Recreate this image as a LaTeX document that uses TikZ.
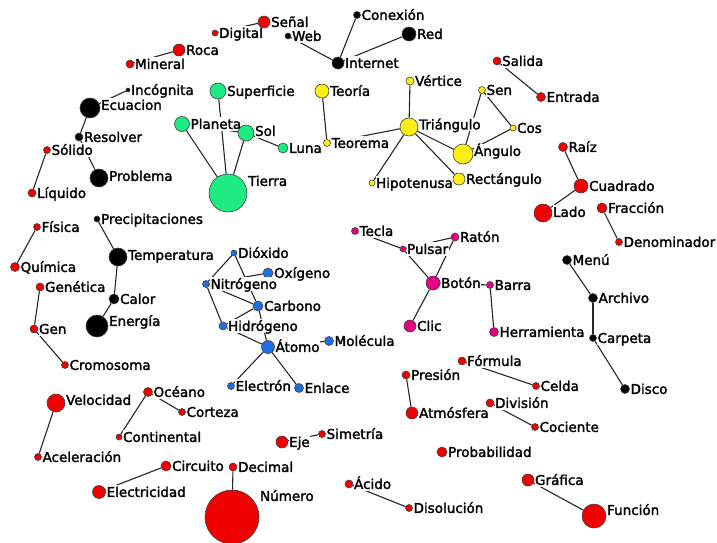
\documentclass[tikz,border=0pt]{standalone}
\usepackage{fontspec}
\setmainfont{DejaVu Sans}
\newfontfamily\lblfont{DejaVu Sans}[FakeBold=2]
\usetikzlibrary{backgrounds}
\begin{document}
\begin{tikzpicture}[x=1pt,y=-1pt,
  dot/.style={circle, draw=black!75, line width=0.6pt, inner sep=0pt},
  lbl/.style={fill=white, inner sep=0.6pt, text height=11pt, text depth=1.2pt,
    font=\lblfont\fontsize{13.5}{15}\selectfont},
  link/.style={line width=1.1pt, black!85}]
\definecolor{redfill}{RGB}{240,0,0}
\definecolor{greenfill}{RGB}{30,235,130}
\definecolor{yellowfill}{RGB}{255,238,20}
\definecolor{bluefill}{RGB}{30,110,230}
\definecolor{pinkfill}{RGB}{230,0,130}
\definecolor{blackfill}{RGB}{0,0,0}
\useasboundingbox (0,0) rectangle (717,542);

% concepts: name/x/y/radius/colour/label shift/text
\foreach \n/\x/\y/\r/\c/\s/\t in {
  dig/215/33/3/redfill/0/Digital, senal/264/22/6/redfill/0/Señal,
  roca/179/50/6/redfill/0/Roca, mine/130/64/4/redfill/0/Mineral,
  sali/497/61/4/redfill/0/Salida, entr/541/97/4.5/redfill/0/Entrada,
  raiz/563/147/4.5/redfill/0/Raíz, cuad/581/186/7/redfill/0/Cuadrado,
  lado/543/213/9/redfill/1/Lado, frac/602/208/5/redfill/0/Fracción,
  deno/619/242/3.5/redfill/0/Denominador,
  soli/47/150/3.5/redfill/0/Sólido, liqu/32/193/4/redfill/0/Líquido,
  fisi/37/227/3.5/redfill/0/Física, quim/15/267/4.5/redfill/0/Química,
  gene/40/287/4/redfill/0/Genética, gen/34/329/4/redfill/0/Gen,
  crom/65/365/3.5/redfill/0/Cromosoma,
  velo/56/403/9/redfill/3/Velocidad, acel/38/457/3.5/redfill/0/Aceleración,
  ocea/148/392/4.5/redfill/0/Océano, cort/182/412/3.5/redfill/0/Corteza,
  cont/119/437/3/redfill/0/Continental,
  circ/166/466/5/redfill/0/Circuito, elec/99/492/6.5/redfill/0/Electricidad,
  deci/233/467/4/redfill/0/Decimal, nume/232/517/27/redfill/21/Número,
  eje/282/442/6/redfill/0/Eje, sime/322/434/3.5/redfill/0/Simetría,
  pres/406/375/4/redfill/0/Presión, atmo/412/413/6/redfill/0/Atmósfera,
  form/462/361/4/redfill/0/Fórmula, celd/536/386/3.5/redfill/0/Celda,
  divi/490/403/4/redfill/0/División, coci/535/427/3.5/redfill/0/Cociente,
  prob/442/452/5/redfill/0/Probabilidad,
  acid/349/484/4/redfill/0/Ácido, diso/409/508/3.5/redfill/0/Disolución,
  graf/528/480/6/redfill/0/Gráfica, func/594/516/12/redfill/6/Función,
  inco/128/90/2/blackfill/0/Incógnita, ecua/90/108/10/blackfill/3/Ecuacion,
  reso/79/137/4/blackfill/0/Resolver, probl/99/178/9/blackfill/2/Problema,
  web/288/36/3/blackfill/0/Web, cone/357/15/3.5/blackfill/0/Conexión,
  inte/338/63/6/blackfill/0/Internet, rednet/409/34/7/blackfill/0/Red,
  prec/97/219/3/blackfill/0/Precipitaciones,
  temp/118/257/9/blackfill/2/Temperatura,
  calo/114/299/5/blackfill/0/Calor, ener/97/326/11/blackfill/5/Energía,
  menu/567/260/4.5/blackfill/0/Menú, arch/593/298/4.5/blackfill/0/Archivo,
  carp/593/338/3.5/blackfill/0/Carpeta, disc/625/389/4.5/blackfill/0/Disco,
  supe/218/91/8/greenfill/0/Superficie, plan/182/124/7.5/greenfill/0/Planeta,
  sol/246/133/8/greenfill/2/Sol, luna/283/148/5/greenfill/0/Luna,
  tier/228/193/19/greenfill/12/Tierra,
  teor/322/91/7/yellowfill/0/Teoría, teore/327/143/3.5/yellowfill/0/Teorema,
  vert/410/81/4/yellowfill/0/Vértice, tria/409/127/9/yellowfill/2.5/Triángulo,
  sen/482/90/3.5/yellowfill/0/Sen, cos/513/128/3/yellowfill/0/Cos,
  angu/463/154/10/yellowfill/3/Ángulo, rect/459/179/6/yellowfill/0/Rectángulo,
  hipo/372/183/3/yellowfill/0/Hipotenusa,
  diox/234/253/3/bluefill/0/Dióxido, oxig/268/273/5/bluefill/0/Oxígeno,
  nitr/206/284/3.5/bluefill/0/Nitrógeno, carb/258/306/5/bluefill/0/Carbono,
  hidr/223/326/4/bluefill/0/Hidrógeno, atom/268/347/6.5/bluefill/0/Átomo,
  mole/329/341/4.5/bluefill/0/Molécula, elect/231/386/3.5/bluefill/0/Electrón,
  enla/299/388/4.5/bluefill/0/Enlace,
  tecl/355/231/3.5/pinkfill/0/Tecla, puls/403/249/3/pinkfill/0/Pulsar,
  rato/455/237/4/pinkfill/0/Ratón, boto/433/283/7/pinkfill/0/Botón,
  clic/410/326/6/pinkfill/0/Clic, barr/490/285/3.5/pinkfill/0/Barra,
  herr/494/332/4.5/pinkfill/0/Herramienta}
  \node[dot, fill=\c, minimum size=2*\r pt, label={[lbl,yshift=\s]east:\t}] (\n) at (\x,\y) {};

% links behind the concepts
\begin{scope}[on background layer]
\foreach \a/\b in {dig/senal, roca/mine, inco/ecua, ecua/reso, reso/probl, soli/liqu,
  web/inte, cone/inte, rednet/inte, teor/teore,
  supe/tier, plan/tier, sol/tier, plan/sol, sol/luna,
  vert/tria, tria/teore, tria/hipo, tria/rect, tria/angu, sen/angu, sen/cos, cos/angu,
  sali/entr, raiz/cuad, cuad/lado, frac/deno, menu/arch, arch/carp, carp/disc,
  barr/herr, form/celd, fisi/quim, gene/gen, gen/crom, prec/temp, temp/calo, calo/ener,
  diox/nitr, diox/carb, oxig/nitr, nitr/hidr, nitr/carb, hidr/carb, hidr/atom, carb/atom,
  atom/mole, atom/elect, atom/enla,
  tecl/puls, puls/boto, rato/puls, rato/boto, boto/clic, boto/barr,
  pres/atmo, divi/coci, acid/diso, graf/func, velo/acel, ocea/cont, ocea/cort,
  circ/elec, deci/nume, eje/sime}
  \draw[link] (\a) -- (\b);
\end{scope}
\end{tikzpicture}
\end{document}
